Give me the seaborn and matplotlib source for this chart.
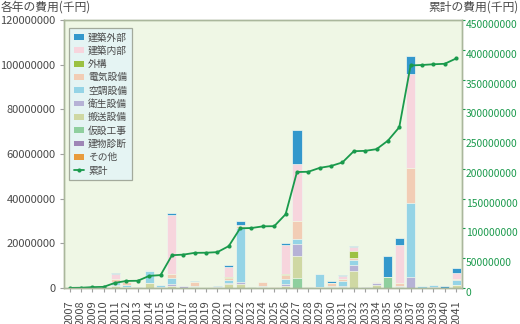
import matplotlib
matplotlib.use("Agg")
import numpy as np
import pandas as pd
import matplotlib.pyplot as plt
import seaborn as sns
from matplotlib.patches import Patch
from matplotlib.lines import Line2D
from matplotlib.ticker import FuncFormatter, MultipleLocator

# Fiscal years
years = list(range(2007, 2042))

# Annual cost per work category, in millions of 千円 (bottom of stack first)
sonota   = [0, 0, 0, 0, 0, 0, 0, 0, 0, 0, 0, 0, 0, 0, 0, 0, 0, 0, 0, 0,
            0, 0, 0, 0, 0, 0, 0, 0, 0, 0, 0, 0.2, 0, 0, 0]
shindan  = [0.2, 0, 0, 0, 0, 0, 0, 0, 0, 0, 0.2, 0, 0, 0, 0, 0, 0, 0, 0, 0,
            0, 0, 0, 0, 0, 0, 0, 0, 0, 0, 0, 0, 0, 0, 0]
kasetsu  = [0, 0, 0, 0, 0, 0, 0, 0, 0, 0, 0, 0, 0, 0, 0, 0, 0.3, 0, 0, 0,
            4.7, 0, 0, 0, 0, 0, 0, 0, 4.8, 0, 0, 0, 0, 0, 0]
hanso    = [0, 0, 0, 0, 1.0, 0.4, 0, 2.2, 0, 0.7, 0, 0.3, 0.2, 0, 1.6, 2.0, 0.2, 0.3, 0, 0.9,
            9.5, 0.5, 0.4, 0.4, 0.3, 7.6, 0, 1.5, 0, 0.4, 0, 0, 0, 0, 1.2]
eisei    = [0, 0.3, 0.2, 0.3, 0.4, 0, 0.3, 0, 0.3, 1.0, 0.8, 0, 0, 0.5, 0.8, 0.8, 0, 0, 0, 0.7,
            5.6, 0, 0, 0, 0.5, 2.9, 0.4, 0.8, 0, 0.7, 4.8, 0, 0.5, 0.2, 0]
kucho    = [0, 0, 0.6, 0, 1.5, 0.8, 0, 5.5, 1.0, 2.7, 0, 0.8, 0, 0, 1.4, 24.2, 0, 0.5, 0, 2.6,
            2.2, 0, 5.8, 0.5, 2.5, 2.1, 0, 0, 0, 0, 33.3, 0.6, 0.7, 0, 2.2]
denki    = [0, 0, 0, 0.2, 1.0, 1.5, 0, 0, 0, 1.8, 0, 1.4, 0, 0, 0.9, 0.7, 0, 2.0, 0.3, 1.6,
            8.1, 0, 0.3, 1.5, 0.8, 1.0, 0, 0.5, 0, 1.3, 15.5, 0, 0, 0, 0.7]
gaiko    = [0, 0, 0, 0, 0, 0, 0, 0, 0, 0, 0, 0, 0, 0, 0.3, 0, 0, 0, 0, 0.5,
            0, 0, 0, 0, 0, 2.8, 0, 0, 0, 0, 0, 0, 0, 0, 0]
naibu    = [0, 0, 0, 0, 2.2, 0.4, 0, 0.5, 0, 26.5, 0, 0.2, 0, 0, 4.2, 0.6, 0, 0, 0, 12.8,
            25.5, 0, 0, 0, 1.5, 2.0, 0, 0, 0, 16.7, 42.3, 0, 0, 0, 2.5]
gaibu    = [0, 0, 0.2, 0, 0.7, 0, 0, 0, 0, 0.7, 0, 0.3, 0, 0.5, 0.9, 1.6, 0, 0, 0, 0.9,
            15.3, 0, 0, 0.8, 0.4, 0.4, 0.2, 0, 9.5, 3.4, 7.9, 0, 0, 0.6, 2.3]

categories = ["その他", "建物診断", "仮設工事", "搬送設備", "衛生設備",
              "空調設備", "電気設備", "外構", "建築内部", "建築外部"]
series = [sonota, shindan, kasetsu, hanso, eisei, kucho, denki, gaiko, naibu, gaibu]
colors = ["#e89b3c", "#9e86b6", "#8fcf9e", "#cfd8a3", "#b6b2d6",
          "#95d4e6", "#f2cdb5", "#9cc142", "#f7d5dd", "#3398cc"]
line_label = "累計"
line_color = "#1a9a4c"
UNIT = 1_000_000

df = pd.DataFrame({c: np.array(s) * UNIT for c, s in zip(categories, series)})
df["year"] = years
stack_tops = df[categories].cumsum(axis=1)
cumulative = df[categories].sum(axis=1).cumsum()

sns.set_style("ticks")
plt.rcParams["font.family"] = ["Noto Sans CJK JP", "DejaVu Sans"]

fig = plt.figure(figsize=(5.2, 3.24), dpi=100)
ax = fig.add_axes([0.123, 0.111, 0.765, 0.827])
ax.set_facecolor("#eff7e5")

# stacked bars: draw each running total from the top layer downwards
for cat, col in reversed(list(zip(categories, colors))):
    sns.barplot(x=df["year"], y=stack_tops[cat], native_scale=True, ax=ax,
                color=col, width=0.8, edgecolor="#f4f9ee", linewidth=0.5,
                saturation=1)

ax.set_xlim(2006.5, 2041.5)
ax.set_ylim(0, 120_000_000)
ax.yaxis.set_major_locator(MultipleLocator(20_000_000))
ax.yaxis.set_major_formatter(FuncFormatter(lambda v, p: f"{int(v)}"))
ax.set_xticks(years)
ax.set_xticklabels([str(y) for y in years], rotation=90)
ax.set_xlabel("")
ax.set_ylabel("")
ax.tick_params(axis="x", length=3, width=0.8, color="#a0a0a0",
               labelsize=8, labelcolor="#4a4a4a", pad=6)
ax.tick_params(axis="y", length=3, width=0.8, color="#a0a0a0",
               labelsize=8, labelcolor="#4a4a4a", pad=3)

ax2 = ax.twinx()
sns.lineplot(x=years, y=cumulative.values, ax=ax2, color=line_color,
             linewidth=1.3, marker="o", markersize=3, markeredgewidth=0)
ax2.set_ylim(0, 450_000_000)
ax2.yaxis.set_major_locator(MultipleLocator(50_000_000))
ax2.yaxis.set_major_formatter(FuncFormatter(lambda v, p: f"{int(v)}"))
ax2.set_ylabel("")
ax2.tick_params(axis="y", length=2, width=0.8, color=line_color,
                labelsize=7.4, labelcolor=line_color, pad=1)
for t in ax2.get_yticklabels():
    t.set_verticalalignment("top")

for a in (ax, ax2):
    for sp in a.spines.values():
        sp.set_color("#aab79c")
        sp.set_linewidth(1.0)

handles = [Patch(facecolor=c, edgecolor="none", label=l)
           for l, c in reversed(list(zip(categories, colors)))]
handles.append(Line2D([0], [0], color=line_color, lw=1.3, marker="o",
                      markersize=3, markeredgewidth=0, label=line_label))
leg = ax2.legend(handles=handles, loc="upper left", bbox_to_anchor=(0.013, 0.972),
                 fontsize=7, frameon=True, fancybox=False, borderpad=0.5,
                 labelspacing=0.34, handlelength=1.05, handleheight=0.55,
                 handletextpad=0.4, borderaxespad=0)
leg.get_frame().set_facecolor("#e5f4f3")
leg.get_frame().set_edgecolor("#a3aa9c")
leg.get_frame().set_linewidth(0.9)
leg.get_frame().set_alpha(1)
for t in leg.get_texts():
    t.set_color("#4a4a4a")

fig.text(0.002, 0.997, "各年の費用(千円)", ha="left", va="top",
         fontsize=8.5, color="#4a4a4a")
fig.text(0.998, 0.997, "累計の費用(千円)", ha="right", va="top",
         fontsize=8.5, color="#4a4a4a")

fig.savefig("out.png", dpi=100, facecolor="white")
